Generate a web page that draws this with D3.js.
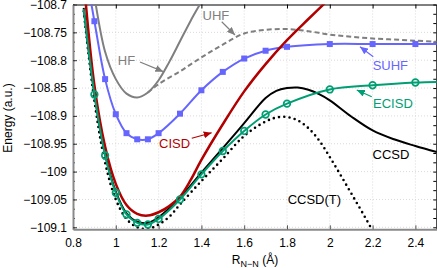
<!DOCTYPE html>
<html>
<head>
<meta charset="utf-8">
<script src="https://cdn.jsdelivr.net/npm/d3@7"></script>
<style>
body { margin: 0; background: #fff; }
svg { display: block; font-family: "Liberation Sans", Arial, sans-serif; }
</style>
</head>
<body>
<svg id="chart" width="437" height="268"></svg>
<script>
// axis ticks
const xTicks = [0.8, 1, 1.2, 1.4, 1.6, 1.8, 2, 2.2, 2.4];
const yTicks = [-108.7, -108.75, -108.8, -108.85, -108.9, -108.95, -109, -109.05, -109.1];

// curves (R in angstrom, energy in a.u.)
const hfR = [0.88, 0.9, 0.95, 1.0, 1.05, 1.1, 1.15, 1.2, 1.25, 1.3, 1.35, 1.4, 1.45];
const hfE = [-108.63, -108.685, -108.785, -108.834, -108.860, -108.867, -108.858, -108.836, -108.803, -108.766, -108.729, -108.695, -108.66];

const uhfR = [1.15, 1.2, 1.3, 1.4, 1.5, 1.6, 1.7, 1.8, 1.9, 2.0, 2.1, 2.2, 2.3, 2.4, 2.5];
const uhfE = [-108.858, -108.843, -108.820, -108.795, -108.772, -108.752, -108.7455, -108.744, -108.748, -108.754, -108.758, -108.761, -108.763, -108.765, -108.767];

const suhfR = [0.85, 0.9, 0.95, 1.0, 1.05, 1.1, 1.15, 1.2, 1.3, 1.4, 1.5, 1.6, 1.7, 1.8, 2.0, 2.2, 2.4, 2.5];
const suhfE = [-108.62, -108.730, -108.834, -108.897, -108.931, -108.942, -108.942, -108.931, -108.896, -108.854, -108.821, -108.797, -108.783, -108.776, -108.771, -108.771, -108.771, -108.771];

const cisdR = [0.85, 0.9, 0.95, 1.0, 1.05, 1.1, 1.15, 1.2, 1.25, 1.3, 1.35, 1.4, 1.5, 1.6, 1.7, 1.8, 1.9, 2.0];
const cisdE = [-108.655, -108.845, -108.955, -109.022, -109.060, -109.076, -109.079, -109.073, -109.062, -109.045, -109.015, -108.979, -108.915, -108.856, -108.807, -108.764, -108.726, -108.689];

const ecisdR = [0.85, 0.9, 0.95, 1.0, 1.05, 1.1, 1.15, 1.2, 1.3, 1.4, 1.5, 1.6, 1.7, 1.8, 2.0, 2.2, 2.4, 2.5];
const ecisdE = [-108.708, -108.8615, -108.971, -109.038, -109.077, -109.092, -109.095, -109.085, -109.050, -109.005, -108.963, -108.927, -108.8975, -108.878, -108.8525, -108.845, -108.840, -108.839];

const ccsdR = [0.85, 0.9, 0.95, 1.0, 1.05, 1.1, 1.15, 1.2, 1.3, 1.4, 1.5, 1.6, 1.7, 1.75, 1.8, 1.85, 1.9, 1.95, 2.0, 2.1, 2.2, 2.3, 2.4, 2.5];
const ccsdE = [-108.706, -108.860, -108.969, -109.036, -109.075, -109.090, -109.092, -109.082, -109.047, -109.002, -108.958, -108.913, -108.868, -108.855, -108.850, -108.849, -108.853, -108.861, -108.872, -108.901, -108.926, -108.942, -108.954, -108.965];

const ccsdtR = [0.85, 0.9, 0.95, 1.0, 1.05, 1.1, 1.15, 1.2, 1.25, 1.3, 1.4, 1.5, 1.6, 1.7, 1.75, 1.8, 1.85, 1.9, 1.95, 2.0, 2.05, 2.1, 2.15, 2.2, 2.25];
const ccsdtE = [-108.712, -108.873, -108.984, -109.050, -109.085, -109.100, -109.103, -109.095, -109.081, -109.059, -109.017, -108.977, -108.936, -108.910, -108.903, -108.902, -108.908, -108.922, -108.944, -108.974, -109.006, -109.039, -109.072, -109.106, -109.14];

// labels and arrows, placed in data coordinates
const labels = [
  { text: 'HF', color: '#7f7f7f', R: 1.05, E: -108.8014 },
  { text: 'UHF', color: '#7f7f7f', R: 1.468, E: -108.7189 },
  { text: 'SUHF', color: '#6666ff', R: 2.283, E: -108.8104 },
  { text: 'ECISD', color: '#009e73', R: 2.295, E: -108.8786 },
  { text: 'CISD', color: '#b20000', R: 1.275, E: -108.9492 },
  { text: 'CCSD', color: '#000', R: 2.286, E: -108.969 },
  { text: 'CCSD(T)', color: '#000', R: 1.928, E: -109.0497 }
];
const arrows = [
  { color: '#7f7f7f', R1: 1.113, E1: -108.8032, R2: 1.222, E2: -108.8206 },
  { color: '#7f7f7f', R1: 1.495, E1: -108.7309, R2: 1.557, E2: -108.7548 },
  { color: '#6666ff', R1: 2.203, E1: -108.7937, R2: 2.141, E2: -108.7758 },
  { color: '#009e73', R1: 2.196, E1: -108.8655, R2: 2.126, E2: -108.8535 },
  { color: '#b20000', R1: 1.355, E1: -108.9402, R2: 1.448, E2: -108.9302 }
];

const svg = d3.select('#chart');
const pLeft = 73, pRight = 436.8, pTop = 4.5, pBottom = 229.3;

const x = d3.scaleLinear().domain([0.8, 2.5]).range([pLeft, pRight]);
const y = d3.scaleLinear().domain([-109.1036, -108.7]).range([pBottom, pTop]);

const defs = svg.append('defs');
defs.append('clipPath').attr('id', 'plotclip')
  .append('rect')
  .attr('x', pLeft).attr('y', pTop)
  .attr('width', pRight - pLeft).attr('height', pBottom - pTop);

// arrowheads, one per colour
const arrowColors = Array.from(new Set(arrows.map(a => a.color)));
arrowColors.forEach((c, i) => {
  defs.append('marker')
    .attr('id', 'arrow' + i)
    .attr('markerUnits', 'userSpaceOnUse')
    .attr('markerWidth', 8).attr('markerHeight', 7)
    .attr('refX', 8).attr('refY', 3.5)
    .attr('orient', 'auto')
    .append('path')
    .attr('d', 'M0,0 L8,3.5 L0,7 Z')
    .attr('fill', c);
});

// grid
svg.append('g').selectAll('line')
  .data(xTicks.filter(t => t > 0.8))
  .enter().append('line')
  .attr('x1', d => x(d)).attr('x2', d => x(d))
  .attr('y1', pTop).attr('y2', pBottom)
  .attr('stroke', '#d0d0d0').attr('stroke-width', 0.8)
  .attr('stroke-dasharray', '1,2');
svg.append('g').selectAll('line')
  .data(yTicks.filter(t => t > -109.1 - 1e-9 && t < -108.7 - 1e-9))
  .enter().append('line')
  .attr('x1', pLeft).attr('x2', pRight)
  .attr('y1', d => y(d)).attr('y2', d => y(d))
  .attr('stroke', '#d0d0d0').attr('stroke-width', 0.8)
  .attr('stroke-dasharray', '1,2');

// minor y ticks at thirds of a major step
const yMinor = [];
for (let i = 0; i <= 24; i++) yMinor.push(-108.7 - i * 0.05 / 3);

// frame: top and right (black, thin)
const topAxis = svg.append('g').attr('transform', `translate(0,${pTop})`)
  .call(d3.axisTop(x).tickValues(xTicks).tickSizeInner(-4).tickSizeOuter(0).tickFormat(''));
topAxis.selectAll('path,line').attr('stroke', '#000').attr('stroke-width', 1);

const rightAxis = svg.append('g').attr('transform', `translate(${pRight - 0.5},0)`)
  .call(d3.axisRight(y).tickValues(yMinor.filter(v => v > -109.1036)).tickSizeInner(-3).tickSizeOuter(0).tickFormat(''));
rightAxis.selectAll('path,line').attr('stroke', '#000').attr('stroke-width', 1);

// curves
const line = d3.line()
  .x(d => x(d.R)).y(d => y(d.E))
  .curve(d3.curveCatmullRom.alpha(0.5));

function pts(R, E) { return R.map((r, i) => ({ R: r, E: E[i] })); }

const plot = svg.append('g').attr('clip-path', 'url(#plotclip)');

const series = [
  { data: pts(hfR, hfE), color: '#7f7f7f', width: 2 },
  { data: pts(uhfR, uhfE), color: '#7f7f7f', width: 2, dash: '5,3' },
  { data: pts(suhfR, suhfE), color: '#6666ff', width: 2 },
  { data: pts(ccsdtR, ccsdtE), color: '#000', width: 2.6, dash: '0,5.3', cap: 'round' },
  { data: pts(ccsdR, ccsdE), color: '#000', width: 2 },
  { data: pts(cisdR, cisdE), color: '#b20000', width: 2.5 },
  { data: pts(ecisdR, ecisdE), color: '#009e73', width: 2 }
];

series.forEach(s => {
  plot.append('path')
    .datum(s.data)
    .attr('d', line)
    .attr('fill', 'none')
    .attr('stroke', s.color)
    .attr('stroke-width', s.width)
    .attr('stroke-dasharray', s.dash || null)
    .attr('stroke-linecap', s.cap || 'butt');
});

// SUHF squares
plot.append('g').selectAll('rect')
  .data(pts(suhfR, suhfE).filter(d => d.R >= 0.89 && d.R <= 2.41))
  .enter().append('rect')
  .attr('x', d => x(d.R) - 3).attr('y', d => y(d.E) - 3)
  .attr('width', 6).attr('height', 6)
  .attr('fill', '#6666ff');

// ECISD circles
plot.append('g').selectAll('circle')
  .data(pts(ecisdR, ecisdE).filter(d => d.R >= 0.89 && d.R <= 2.41))
  .enter().append('circle')
  .attr('cx', d => x(d.R)).attr('cy', d => y(d.E))
  .attr('r', 3.3)
  .attr('fill', 'none')
  .attr('stroke', '#009e73')
  .attr('stroke-width', 1.7);

// left and bottom axes (grey, thick)
const bottomAxis = svg.append('g').attr('transform', `translate(0,${pBottom})`)
  .call(d3.axisBottom(x).tickValues(xTicks).tickSizeInner(-4).tickSizeOuter(0).tickPadding(9)
    .tickFormat(d3.format('~f')));
bottomAxis.select('.domain').attr('stroke', '#8a8a8a').attr('stroke-width', 2);
bottomAxis.selectAll('.tick line').attr('stroke', '#555');
bottomAxis.selectAll('text').attr('font-size', 12).attr('fill', '#000')
  .attr('font-family', '"Liberation Sans", Arial, sans-serif');

const leftMinor = svg.append('g').attr('transform', `translate(${pLeft},0)`)
  .call(d3.axisLeft(y).tickValues(yMinor.filter(v => v > -109.1036)).tickSizeInner(-2).tickSizeOuter(0).tickFormat(''));
leftMinor.select('.domain').remove();
leftMinor.selectAll('line').attr('stroke', '#333');

const leftAxis = svg.append('g').attr('transform', `translate(${pLeft},0)`)
  .call(d3.axisLeft(y).tickValues(yTicks).tickSizeInner(-4).tickSizeOuter(0).tickPadding(6)
    .tickFormat(d3.format('~f')));
leftAxis.select('.domain').attr('stroke', '#8a8a8a').attr('stroke-width', 2);
leftAxis.selectAll('.tick line').attr('stroke', '#333');
leftAxis.selectAll('text').attr('font-size', 12).attr('fill', '#000')
  .attr('font-family', '"Liberation Sans", Arial, sans-serif');

// annotations
svg.append('g').selectAll('line')
  .data(arrows)
  .enter().append('line')
  .attr('x1', d => x(d.R1)).attr('y1', d => y(d.E1))
  .attr('x2', d => x(d.R2)).attr('y2', d => y(d.E2))
  .attr('stroke', d => d.color)
  .attr('stroke-width', 1.2)
  .attr('marker-end', d => 'url(#arrow' + arrowColors.indexOf(d.color) + ')');

svg.append('g').selectAll('text')
  .data(labels)
  .enter().append('text')
  .attr('x', d => x(d.R)).attr('y', d => y(d.E))
  .attr('text-anchor', 'middle')
  .attr('dominant-baseline', 'central')
  .attr('font-size', 13)
  .attr('fill', d => d.color)
  .text(d => d.text);

// axis titles
svg.append('text')
  .attr('transform', 'translate(8,118) rotate(-90)')
  .attr('text-anchor', 'middle')
  .attr('dominant-baseline', 'central')
  .attr('font-size', 12)
  .text('Energy (a.u.)');

const xt = svg.append('text')
  .attr('x', 255).attr('y', 264)
  .attr('text-anchor', 'middle')
  .attr('font-size', 12);
xt.append('tspan').text('R');
xt.append('tspan').attr('font-size', 9).attr('dy', 3).text('N\u2212N');
xt.append('tspan').attr('dy', -3).text(' (\u00C5)');
</script>
</body>
</html>
